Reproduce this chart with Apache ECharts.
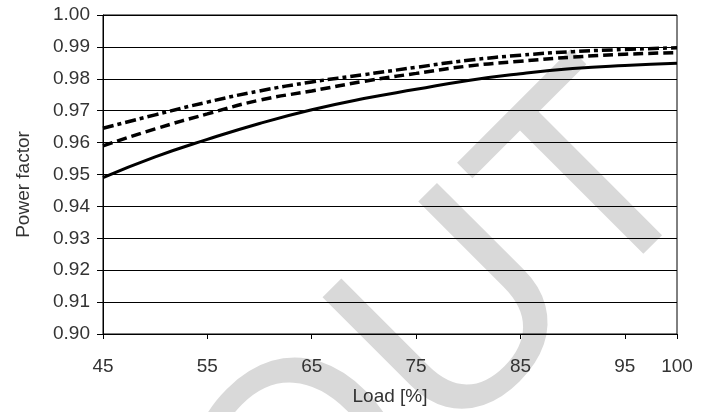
<!DOCTYPE html>
<html>
<head>
<meta charset="utf-8">
<script src="https://cdn.jsdelivr.net/npm/echarts@6/dist/echarts.min.js"></script>
<style>html,body{margin:0;padding:0;background:#fff}#c{width:712px;height:412px}</style>
</head>
<body>
<div id="c"></div>
<script>
const loads = [45, 50, 55, 60, 65, 70, 75, 80, 85, 90, 95, 100];
const solidPF   = [0.949, 0.9555, 0.961, 0.966, 0.9703, 0.9738, 0.9767, 0.9795, 0.9816, 0.9832, 0.9842, 0.9849];
const dashedPF  = [0.959, 0.9643, 0.969, 0.9733, 0.9762, 0.9792, 0.9817, 0.984, 0.9855, 0.9868, 0.9877, 0.9882];
const dashDotPF = [0.9645, 0.9687, 0.9727, 0.9762, 0.979, 0.9813, 0.9836, 0.9858, 0.9874, 0.9885, 0.9892, 0.9897];
const xTicks = [45, 55, 65, 75, 85, 95, 100];
const yTicks = [0.90, 0.91, 0.92, 0.93, 0.94, 0.95, 0.96, 0.97, 0.98, 0.99, 1.00];
const xTitle = 'Load [%]';
const yTitle = 'Power factor';
const watermark = 'OUT';

const font = "'Liberation Sans', Arial, sans-serif";
const txt = '#333';
function pairs(v) { return loads.map((x, i) => [x, v[i]]); }
function line(name, v, type, w) {
  return {
    name, type: 'line', data: pairs(v), smooth: true, showSymbol: false, z: 3,
    lineStyle: { color: '#000', width: w, type: type, cap: 'butt' }
  };
}
const chart = echarts.init(document.getElementById('c'), null, { renderer: 'canvas' });
chart.setOption({
  animation: false,
  backgroundColor: '#fff',
  graphic: [{
    type: 'text', x: 446, y: 340, rotation: Math.PI / 4, z: -10, silent: true,
    style: { text: watermark, font: "285px 'Liberation Sans', Arial, sans-serif", fill: '#d9d9d9', align: 'center', verticalAlign: 'middle' }
  }],
  grid: { left: 103, right: 35, top: 15, bottom: 78, show: true, borderColor: '#000', borderWidth: 1, backgroundColor: 'transparent' },
  xAxis: {
    type: 'value', min: 45, max: 100,
    name: xTitle, nameLocation: 'middle', nameGap: 53,
    nameTextStyle: { fontFamily: font, fontSize: 19, color: txt },
    axisLine: { show: true, lineStyle: { color: '#000', width: 1 } },
    axisTick: { show: true, inside: false, length: 5, lineStyle: { color: '#000' }, customValues: xTicks },
    axisLabel: { fontFamily: font, fontSize: 19, color: txt, margin: 23, customValues: xTicks },
    splitLine: { show: false }
  },
  yAxis: {
    type: 'value', min: 0.9, max: 1.0, interval: 0.01,
    name: yTitle, nameLocation: 'middle', nameGap: 70,
    nameTextStyle: { fontFamily: font, fontSize: 19, color: txt, padding: [0, 20, 0, 0] },
    axisLine: { show: true, lineStyle: { color: '#000', width: 1 } },
    axisTick: { show: true, inside: false, length: 6, lineStyle: { color: '#000' } },
    axisLabel: { fontFamily: font, fontSize: 19, color: txt, margin: 13, formatter: v => v.toFixed(2) },
    splitLine: { show: true, lineStyle: { color: '#000', width: 1 } }
  },
  series: [
    line('solid', solidPF, 'solid', 3),
    line('dashed', dashedPF, [10, 5], 3.5),
    line('dashdot', dashDotPF, [11, 4, 4, 4], 3.5)
  ]
});
</script>
</body>
</html>
